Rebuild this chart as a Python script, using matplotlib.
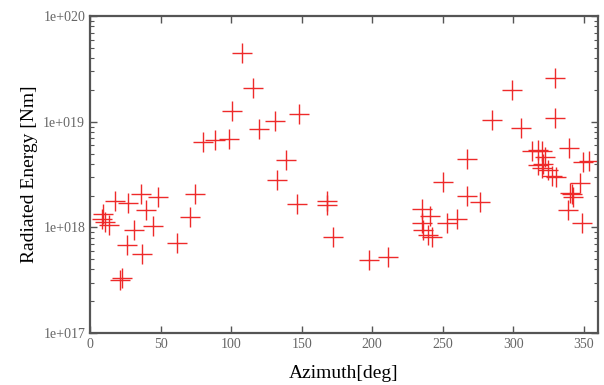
import matplotlib.pyplot as plt
import matplotlib.ticker as mticker
import numpy as np

# azimuth [deg]
azimuth = [8.3, 9.4, 10.5, 13.7, 17.7, 21.3, 22.5, 26.0, 27.2, 31.4, 36.2, 36.7,
           39.7, 44.9, 48.0, 61.9, 70.9, 74.4,
           80.3, 88.6, 98.8, 100.9, 107.5, 115.3, 120.0, 131.2, 132.8, 139.0,
           147.0, 148.4, 167.8, 168.2, 172.5, 197.8, 211.5,
           235.6, 241.0, 235.6, 236.3, 239.5, 242.2, 250.0, 252.9, 260.0, 267.0,
           267.5, 276.5, 285.2, 298.9, 305.3,
           313.1, 317.8, 320.2, 322.6, 317.8, 321.4, 320.2, 324.9, 327.3, 330.4,
           329.6, 329.6, 339.8, 338.8, 340.3, 342.6, 341.5, 347.4, 348.6, 349.7,
           353.3]
# radiated energy in units of 1e18 Nm
energy_e18 = [1.19, 1.34, 1.12, 1.05, 1.79, 0.315, 0.33, 0.68, 1.69, 0.944, 2.05, 0.556,
              1.46, 1.03, 1.95, 0.706, 1.26, 2.05,
              6.38, 6.7, 6.85, 12.7, 45, 20.7, 8.47, 10.2, 2.8, 4.34,
              1.66, 11.8, 1.79, 1.63, 0.805, 0.49, 0.527,
              1.51, 1.28, 1.09, 0.94, 0.85, 0.805, 2.7, 1.1, 1.19, 4.4,
              1.98, 1.75, 10.5, 20.2, 8.65,
              5.31, 5.39, 5.31, 4.67, 3.89, 4.0, 3.62, 3.49, 3.1, 2.97,
              25.7, 10.8, 5.6, 1.46, 2.1, 1.95, 2.05, 2.61, 1.11, 4.18,
              4.3]

energy = np.array(energy_e18) * 1e18

fig = plt.figure(figsize=(6.04, 3.85), dpi=100)
ax = fig.add_axes([0.149, 0.135, 0.841, 0.823])

ax.plot(azimuth, energy, ls='none', marker='+', ms=14, mew=1.0, color='#ee2a2a')

ax.set_yscale('log')
ax.set_xlim(0, 360)
ax.set_ylim(1e17, 1e20)

ax.xaxis.set_major_locator(mticker.MultipleLocator(50))
ax.yaxis.set_major_locator(mticker.LogLocator(base=10, numticks=10))
ax.yaxis.set_minor_locator(mticker.LogLocator(base=10, subs=np.arange(2, 10), numticks=10))
ax.yaxis.set_major_formatter(mticker.FuncFormatter(lambda v, p: "1e+%03d" % int(round(np.log10(v)))))
ax.yaxis.set_minor_formatter(mticker.NullFormatter())

ax.tick_params(which='both', direction='in', top=True, right=True, colors='#555555',
               labelcolor='#666666', labelsize=10)
ax.tick_params(which='major', length=5, width=1)
ax.tick_params(which='minor', length=3, width=0.8)
for lab in ax.get_xticklabels() + ax.get_yticklabels():
    lab.set_family('Liberation Serif')

for s in ax.spines.values():
    s.set_color('#555555')
    s.set_linewidth(1.6)

ax.set_xlabel("Azimuth[deg]", family='Liberation Serif', fontsize=14, labelpad=10)
ax.set_ylabel("Radiated Energy [Nm]", family='Liberation Serif', fontsize=14, labelpad=4)

fig.savefig("out.png", dpi=100)
